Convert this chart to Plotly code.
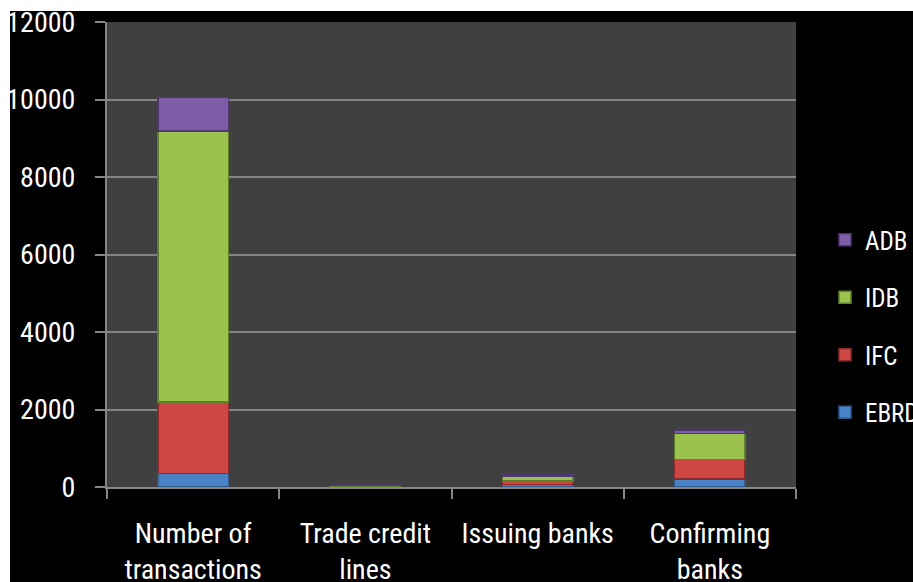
import plotly.graph_objects as go

# Trade finance programme data by institution
categories = ["Number of<br>transactions", "Trade credit<br>lines", "Issuing banks", "Confirming<br>banks"]
ebrd = [350, 12, 60, 210]
ifc = [1850, 18, 90, 500]
idb = [6990, 10, 120, 670]
adb = [860, 30, 40, 90]

y_ticks = [0, 2000, 4000, 6000, 8000, 10000, 12000]

series = [
    ("EBRD", ebrd, "#4A82C8", "#2E5A8E"),
    ("IFC", ifc, "#CF4745", "#8E2B2A"),
    ("IDB", idb, "#9CC24E", "#5F7F2A"),
    ("ADB", adb, "#7E5DA8", "#4F3872"),
]

FONT = "Liberation Sans Narrow, Roboto Condensed, Arial Narrow, sans-serif"

fig = go.Figure()
n = len(series)
for i, (name, vals, color, edge) in enumerate(series):
    fig.add_trace(go.Bar(
        x=categories, y=vals, name=name,
        legendgroup=name,
        legendrank=n - i,
        marker=dict(color=color, line=dict(color=edge, width=1.5)),
    ))

# page frame: white strip top/left, black panel, dark grey plot area
W, H = 913, 582
L, R, T, B = 107, 117, 22, 95
pw, ph = W - L - R, H - T - B

def px(x):
    return (x - L) / pw

def py(y):
    return (H - B - y) / ph

fig.add_shape(type="rect", xref="paper", yref="paper",
              x0=px(10), x1=px(W + 50), y0=py(H + 50), y1=py(11),
              fillcolor="black", line_width=0, layer="below")
fig.add_shape(type="rect", xref="paper", yref="paper",
              x0=0, x1=1, y0=0, y1=1,
              fillcolor="#404040", line_width=0, layer="below")

fig.update_layout(
    width=W, height=H,
    margin=dict(l=L, r=R, t=T, b=B, pad=0, autoexpand=False),
    barmode="stack",
    bargap=0.59,
    paper_bgcolor="white",
    plot_bgcolor="#404040",
    font=dict(family=FONT, color="white", size=28),
    showlegend=True,
    legend=dict(
        x=px(825), y=py(217), xanchor="left", yanchor="top",
        traceorder="grouped",
        tracegroupgap=22,
        font=dict(size=25, color="white", family=FONT),
        bgcolor="rgba(0,0,0,0)",
        itemwidth=30,
    ),
    xaxis=dict(
        showgrid=False,
        showline=True, linecolor="#868686", linewidth=2,
        ticks="outside", tickson="boundaries", ticklen=10, tickwidth=2, tickcolor="#868686",
        tickfont=dict(size=28, color="white", family=FONT),
        ticklabelstandoff=20,
        fixedrange=True,
    ),
    yaxis=dict(
        range=[0, 12000],
        tickvals=y_ticks,
        ticktext=[str(v) for v in y_ticks],
        showgrid=True, gridcolor="#868686", gridwidth=2,
        showline=True, linecolor="#868686", linewidth=2,
        ticks="outside", ticklen=10, tickwidth=2, tickcolor="#868686",
        tickfont=dict(size=28, color="white", family=FONT),
        ticklabelstandoff=14,
        zeroline=False,
        fixedrange=True,
    ),
)

fig.write_html("out.html")
